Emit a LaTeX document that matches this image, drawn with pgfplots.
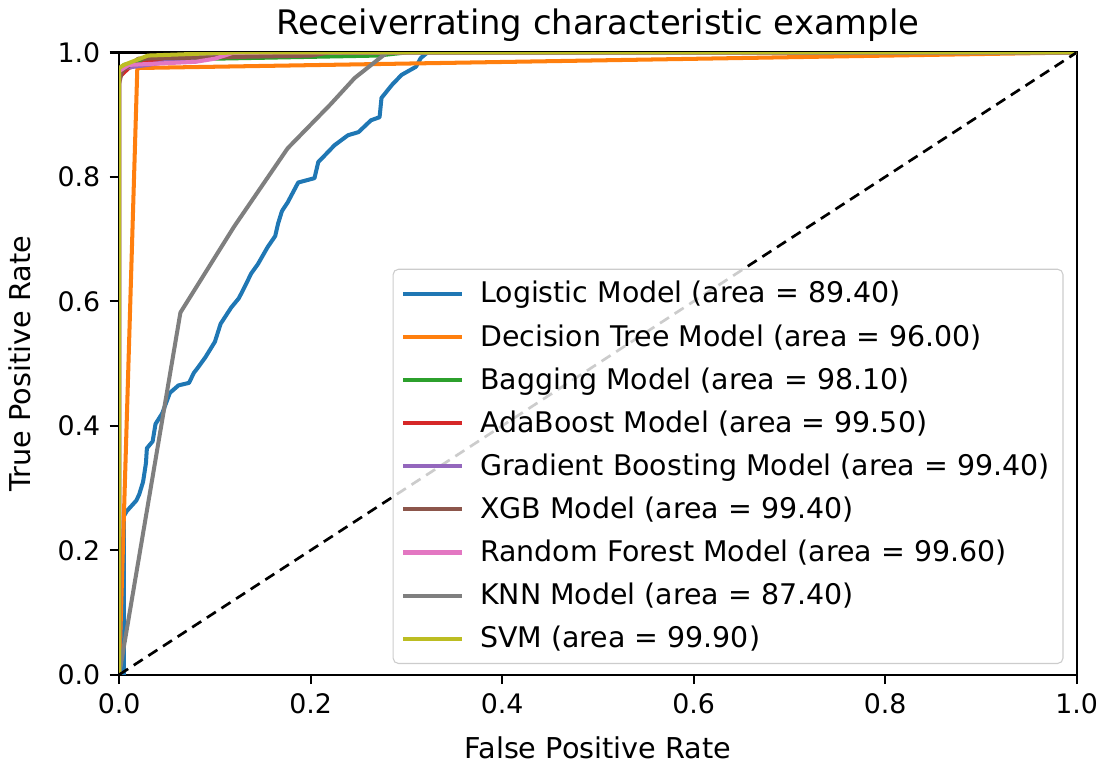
\documentclass[border=0pt]{standalone}
\usepackage{fontspec}
\setmainfont{DejaVu Sans}
\usepackage{pgfplots}
\pgfplotsset{compat=1.18}
\definecolor{tabblue}{HTML}{1F77B4}
\definecolor{taborange}{HTML}{FF7F0E}
\definecolor{tabgreen}{HTML}{2CA02C}
\definecolor{tabred}{HTML}{D62728}
\definecolor{tabpurple}{HTML}{9467BD}
\definecolor{tabbrown}{HTML}{8C564B}
\definecolor{tabpink}{HTML}{E377C2}
\definecolor{tabgray}{HTML}{7F7F7F}
\definecolor{tabolive}{HTML}{BCBD22}
\begin{document}
\begin{tikzpicture}
\begin{axis}[
    scale only axis,
    width=357pt,
    height=232pt,
    xmin=0, xmax=1,
    ymin=0, ymax=1,
    xtick={0,0.2,0.4,0.6,0.8,1},
    ytick={0,0.2,0.4,0.6,0.8,1},
    xticklabel style={/pgf/number format/.cd,fixed,fixed zerofill,precision=1,
        /tikz/.cd, inner xsep=0pt},
    yticklabel style={/pgf/number format/.cd,fixed,fixed zerofill,precision=1},
    /pgf/number format/assume math mode=true,
    tick label style={font=\fontsize{10}{12}\selectfont},
    label style={font=\fontsize{10.7}{13}\selectfont},
    ylabel shift=3pt,
    xlabel shift=-2.4pt,
    xlabel style={inner ysep=7.2pt},
    xtick pos=bottom,
    ytick pos=left,
    tick align=outside,
    major tick length=3.5pt,
    tick style={black, line width=0.8pt},
    axis line style={black, line width=0.8pt},
    xlabel={False Positive Rate},
    ylabel={True Positive Rate},
    title={Receiverrating characteristic example},
    title style={font=\fontsize{12.6}{15}\selectfont, yshift=-5.5pt},
    legend cell align=left,
    legend style={at={(1,0)}, anchor=south east, xshift=-4.9pt, yshift=4pt,
        draw=black!20, rounded corners=2pt, fill=white, fill opacity=0.8,
        text opacity=1, draw opacity=1,
        font=\fontsize{10.6}{13}\selectfont, row sep=2.5pt,
        nodes={inner ysep=2pt, inner xsep=2pt},
        /tikz/every odd column/.append style={column sep=4pt},
        inner xsep=3pt, inner ysep=2.5pt},
    legend image code/.code={\draw[#1] (0pt,0pt) -- (22pt,0pt);},
    every axis plot/.append style={line width=1.5pt, line join=round},
]
\addplot[tabblue] coordinates {
    (0,0) (0.005,0) (0.005,0.255) (0.008,0.263) (0.018,0.28) (0.021,0.29)
    (0.025,0.31) (0.028,0.34) (0.029,0.364) (0.035,0.375) (0.038,0.403)
    (0.045,0.42) (0.053,0.453) (0.062,0.465) (0.073,0.469) (0.078,0.485)
    (0.082,0.493) (0.09,0.51) (0.1,0.535) (0.106,0.564) (0.117,0.59)
    (0.125,0.605) (0.13,0.62) (0.138,0.645) (0.145,0.66) (0.155,0.687)
    (0.163,0.705) (0.166,0.725) (0.17,0.745) (0.176,0.759) (0.187,0.791)
    (0.204,0.798) (0.208,0.824) (0.215,0.835) (0.225,0.851) (0.239,0.867)
    (0.25,0.872) (0.263,0.891) (0.272,0.896) (0.274,0.927) (0.285,0.948)
    (0.295,0.964) (0.31,0.977) (0.315,0.991) (0.322,1) (1,1)
};
\addplot[taborange] coordinates {(0,0) (0.019,0.975) (1,1)};
\addplot[tabgreen] coordinates {
    (0,0) (0,0.97) (0.005,0.98) (0.02,0.985) (0.1,0.99) (0.27,0.995) (0.3,1) (1,1)
};
\addplot[tabred] coordinates {
    (0,0) (0,0.96) (0.01,0.975) (0.03,0.985) (0.06,0.99) (0.1,1) (1,1)
};
\addplot[tabpurple] coordinates {
    (0,0) (0,0.96) (0.005,0.975) (0.03,0.98) (0.07,0.99) (0.12,1) (1,1)
};
\addplot[tabbrown] coordinates {
    (0,0) (0,0.95) (0.003,0.97) (0.02,0.99) (0.2,0.995) (0.22,1) (1,1)
};
\addplot[tabpink] coordinates {
    (0,0) (0,0.97) (0.01,0.98) (0.08,0.985) (0.1,0.99) (0.12,1) (1,1)
};
\addplot[tabgray] coordinates {
    (0,0) (0.064,0.582) (0.12,0.72) (0.176,0.846) (0.221,0.917)
    (0.246,0.959) (0.274,0.993) (0.28,1) (1,1)
};
\addplot[tabolive] coordinates {
    (0,0) (0,0.975) (0.005,0.98) (0.03,0.995) (0.12,1) (1,1)
};
\addplot[black, line width=1pt, dash pattern=on 4pt off 2.5pt, forget plot]
    coordinates {(0,0) (1,1)};
\legend{
    Logistic Model (area = 89.40),
    Decision Tree Model (area = 96.00),
    Bagging Model (area = 98.10),
    AdaBoost Model (area = 99.50),
    Gradient Boosting Model (area = 99.40),
    XGB Model (area = 99.40),
    Random Forest Model (area = 99.60),
    KNN Model (area = 87.40),
    SVM (area = 99.90)
}
\end{axis}
\end{tikzpicture}
\end{document}
